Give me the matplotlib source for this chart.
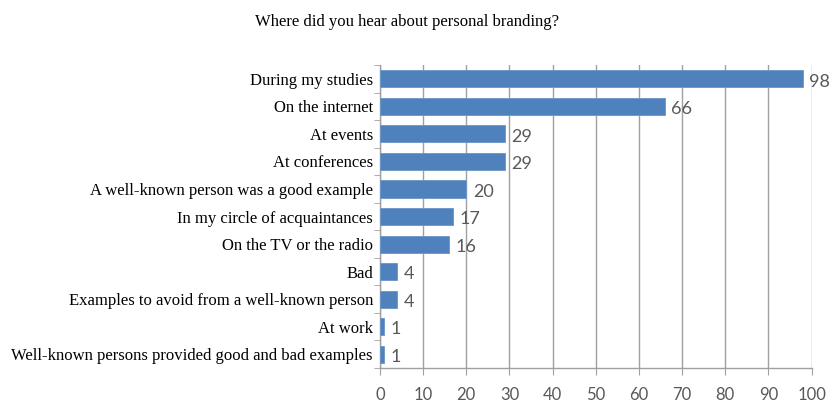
import numpy as np
import matplotlib.pyplot as plt

categories = [
    "During my studies",
    "On the internet",
    "At events",
    "At conferences",
    "A well-known person was a good example",
    "In my circle of acquaintances",
    "On the TV or the radio",
    "Bad",
    "Examples to avoid from a well-known person",
    "At work",
    "Well-known persons provided good and bad examples",
]
values = [98, 66, 29, 29, 20, 17, 16, 4, 4, 1, 1]
xticks = list(range(0, 101, 10))

fig = plt.figure(figsize=(8.35, 4.05), dpi=100)
ax = fig.add_axes([0.455, 0.0914, 0.517, 0.748])

y = np.arange(len(categories))
ax.barh(y, values, height=0.62, color="#4F81BD", edgecolor="#6C95C8", linewidth=0.6, zorder=3)

ax.set_ylim(len(categories) - 0.5, -0.5)
ax.set_xlim(0, 100)
ax.set_xticks(xticks)
ax.set_xticklabels([str(t) for t in xticks], family="Lato", fontsize=12, color="#595959")

ax.set_yticks(y)
ax.set_yticklabels(categories, family="Liberation Serif", fontsize=12, color="black")
ax.set_yticks(np.arange(len(categories) + 1) - 0.5, minor=True)
ax.tick_params(axis="y", which="major", length=0, pad=5)
ax.tick_params(axis="y", which="minor", length=4, color="#A0A0A0", direction="out")
ax.tick_params(axis="x", length=5, color="#A0A0A0", pad=9)

ax.grid(axis="x", color="#A0A0A0", linewidth=1, zorder=0)
for s in ["top", "right"]:
    ax.spines[s].set_visible(False)
for s in ["left", "bottom"]:
    ax.spines[s].set_color("#A0A0A0")
    ax.spines[s].set_linewidth(1)

for yi, v in zip(y, values):
    ax.text(v + 1.5, yi + 0.1, str(v), va="center", ha="left",
            family="Lato", fontsize=13, color="#595959")

fig.text(0.488, 0.945, "Where did you hear about personal branding?",
         family="Liberation Serif", fontsize=12, ha="center", va="center")

fig.savefig("out.png", dpi=100)
